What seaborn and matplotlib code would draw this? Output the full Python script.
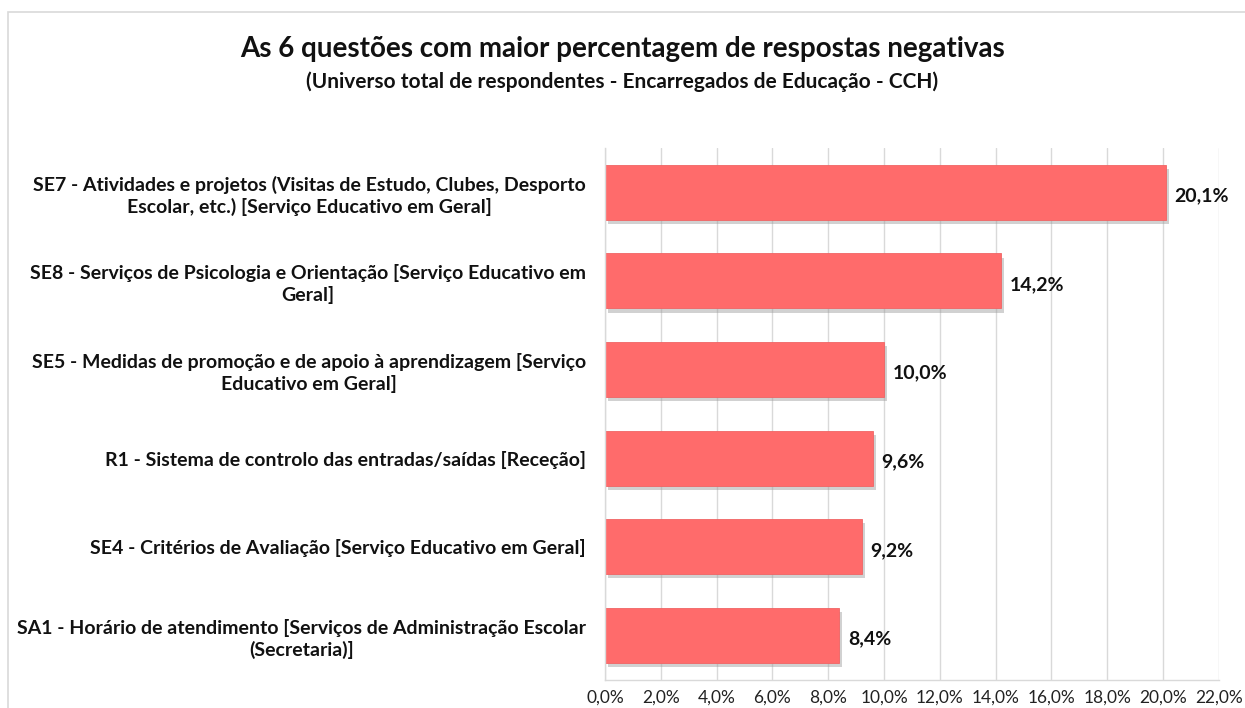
import matplotlib
matplotlib.use("Agg")
import matplotlib.pyplot as plt
import matplotlib.patheffects as pe
from matplotlib.ticker import FuncFormatter, MultipleLocator
import seaborn as sns
import pandas as pd

categories = [
    "SE7 - Atividades e projetos (Visitas de Estudo, Clubes, Desporto\nEscolar, etc.) [Serviço Educativo em Geral]",
    "SE8 - Serviços de Psicologia e Orientação [Serviço Educativo em\nGeral]",
    "SE5 - Medidas de promoção e de apoio à aprendizagem [Serviço\nEducativo em Geral]",
    "R1 - Sistema de controlo das entradas/saídas [Receção]",
    "SE4 - Critérios de Avaliação [Serviço Educativo em Geral]",
    "SA1 - Horário de atendimento [Serviços de Administração Escolar\n(Secretaria)]",
]
values = [20.1, 14.2, 10.0, 9.6, 9.2, 8.4]
title = "As 6 questões com maior percentagem de respostas negativas"
subtitle = "(Universo total de respondentes - Encarregados de Educação - CCH)"

sns.set_theme(style="white")
plt.rcParams["font.family"] = ["Lato", "DejaVu Sans"]

df = pd.DataFrame({"cat": categories, "val": values})

fig = plt.figure(figsize=(12.45, 7.08), dpi=100)
ax = fig.add_axes([0.486, 0.04, 0.493, 0.751])

sns.barplot(data=df, x="val", y="cat", orient="h", color="#FF6B6B",
            saturation=1, width=0.62, ax=ax, edgecolor="#F06464", linewidth=0.6)
for p in ax.patches:
    p.set_path_effects([pe.SimplePatchShadow(offset=(2, -3), shadow_rgbFace="#999999", alpha=0.45), pe.Normal()])

ax.set_xlim(0, 22)
ax.xaxis.set_major_locator(MultipleLocator(2))
ax.xaxis.set_major_formatter(FuncFormatter(lambda v, p: f"{v:.1f}%".replace(".", ",")))
ax.grid(axis="x", color="#D9D9D9", linewidth=1)
ax.set_axisbelow(True)
for s in ["top", "right"]:
    ax.spines[s].set_visible(False)
for s in ["left", "bottom"]:
    ax.spines[s].set_color("#D9D9D9")
    ax.spines[s].set_linewidth(1)
ax.set_xlabel("")
ax.set_ylabel("")
ax.tick_params(axis="x", labelsize=12.5, colors="#222222", length=0, pad=7)
ax.tick_params(axis="y", length=0, pad=14)
for lab in ax.get_yticklabels():
    lab.set_fontsize(14)
    lab.set_fontweight("bold")
    lab.set_multialignment("center")
    lab.set_color("#111111")
    lab.set_linespacing(1.25)

for p, v in zip(ax.patches, values):
    ax.text(p.get_width() + 0.3, p.get_y() + p.get_height() / 2 + 0.04,
            f"{v:.1f}%".replace(".", ","), va="center", ha="left",
            fontsize=14, fontweight="bold", color="#111111")

fig.text(0.5, 0.931, title, ha="center", va="center", fontsize=20, fontweight="bold", color="#111111")
fig.text(0.5, 0.885, subtitle, ha="center", va="center", fontsize=15, fontweight="bold", color="#111111")

border = plt.Rectangle((0.0065, -0.01), 1.1, 0.993, transform=fig.transFigure,
                       fill=False, edgecolor="#D9D9D9", linewidth=1.2)
fig.add_artist(border)

fig.savefig("out.png", dpi=100)
